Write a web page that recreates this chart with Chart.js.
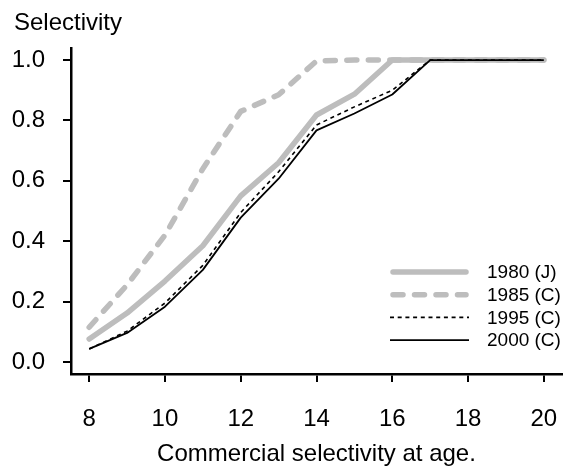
<!DOCTYPE html>
<html>
<head>
<meta charset="utf-8">
<script src="https://cdn.jsdelivr.net/npm/chart.js@4/dist/chart.umd.min.js"></script>
<style>
  html, body { margin: 0; padding: 0; background: #fff; }
  #wrap { width: 566px; height: 469px; position: relative; }
</style>
</head>
<body>
<div id="wrap"><canvas id="sel-chart"></canvas></div>
<script>
    // ages and selectivity
    const ages = [8, 9, 10, 11, 12, 13, 14, 15, 16, 17, 18, 19, 20];
    const sel1980 = [0.076, 0.162, 0.268, 0.385, 0.55, 0.66, 0.818, 0.887, 1, 1, 1, 1, 1];
    const sel1985 = [0.115, 0.255, 0.42, 0.64, 0.83, 0.885, 0.997, 1, 1, 1, 1, 1, 1];
    const sel1995 = [0.043, 0.102, 0.195, 0.32, 0.495, 0.63, 0.785, 0.845, 0.9, 1, 1, 1, 1];
    const sel2000 = [0.043, 0.096, 0.183, 0.305, 0.478, 0.607, 0.767, 0.823, 0.886, 1, 1, 1, 1];
    const seriesLabels = ['1980 (J)', '1985 (C)', '1995 (C)', '2000 (C)'];
    const xTicks = [8, 10, 12, 14, 16, 18, 20];
    const yTicks = [0, 0.2, 0.4, 0.6, 0.8, 1.0];

    const FONT = '"Liberation Sans", Arial, sans-serif';
    const GRAY = '#bdbdbd';

    const toPoints = vals => ages.map((a, i) => ({ x: a, y: vals[i] }));

    // legend in the lower right, drawn by hand like the R figure
    const legendPlugin = {
        id: 'rLegend',
        afterDraw(chart) {
            const ctx = chart.ctx;
            ctx.save();
            chart.data.datasets.forEach((ds, i) => {
                const y = 272 + i * 22.7;
                ctx.beginPath();
                ctx.strokeStyle = ds.borderColor;
                ctx.lineWidth = ds.borderWidth;
                ctx.lineCap = ds.borderCapStyle || 'butt';
                ctx.setLineDash(ds.borderDash || []);
                ctx.moveTo(ds.borderCapStyle === 'round' ? 393 : 390, y);
                ctx.lineTo(ds.borderCapStyle === 'round' ? 466 : 469, y);
                ctx.stroke();
                ctx.setLineDash([]);
                ctx.fillStyle = '#000';
                ctx.font = '19px ' + FONT;
                ctx.textAlign = 'left';
                ctx.textBaseline = 'middle';
                ctx.fillText(ds.label, 487, y + 1);
            });
            // y axis title at top left
            ctx.font = '24px ' + FONT;
            ctx.textBaseline = 'alphabetic';
            ctx.fillText('Selectivity', 14, 30);
            ctx.restore();
        }
    };

    const chartCtx = document.getElementById('sel-chart').getContext('2d');
    const chart = new Chart(chartCtx, {
        type: 'line',
        data: {
            datasets: [
                { label: seriesLabels[0], data: toPoints(sel1980), borderColor: GRAY, borderWidth: 5.5,
                  borderJoinStyle: 'round', borderCapStyle: 'round', order: 4 },
                { label: seriesLabels[1], data: toPoints(sel1985), borderColor: GRAY, borderWidth: 5.5,
                  borderDash: [10, 11.5], borderJoinStyle: 'round', borderCapStyle: 'round', order: 3 },
                { label: seriesLabels[2], data: toPoints(sel1995), borderColor: '#000', borderWidth: 1.6,
                  borderDash: [4, 3.7], borderJoinStyle: 'round', order: 2 },
                { label: seriesLabels[3], data: toPoints(sel2000), borderColor: '#000', borderWidth: 1.8,
                  borderJoinStyle: 'round', order: 1 }
            ]
        },
        options: {
            responsive: true,
            maintainAspectRatio: false,
            animation: false,
            elements: { point: { radius: 0 }, line: { tension: 0 } },
            layout: { padding: { top: 48, right: 4, left: 0, bottom: 0 } },
            plugins: {
                legend: { display: false },
                tooltip: { enabled: false },
                title: { display: false }
            },
            scales: {
                x: {
                    type: 'linear',
                    min: 7.52,
                    max: 20.48,
                    afterFit: s => { s.height = 95; s.paddingLeft = 0; s.paddingRight = 0; },
                    afterBuildTicks: s => { s.ticks = xTicks.map(v => ({ value: v })); },
                    grid: { drawOnChartArea: false, drawTicks: true, tickLength: 8, color: '#000', lineWidth: 2 },
                    border: { display: true, color: '#000', width: 2.5 },
                    ticks: { color: '#000', font: { family: FONT, size: 24 }, padding: 23, maxRotation: 0,
                             callback: v => String(v) },
                    title: { display: true, text: 'Commercial selectivity at age.', color: '#000',
                             font: { family: FONT, size: 24 }, padding: { top: 4, bottom: 0 } }
                },
                y: {
                    min: -0.04,
                    max: 1.04,
                    afterFit: s => { s.width = 71; },
                    afterBuildTicks: s => { s.ticks = yTicks.map(v => ({ value: v })); },
                    grid: { drawOnChartArea: false, drawTicks: true, tickLength: 8, color: '#000', lineWidth: 2 },
                    border: { display: true, color: '#000', width: 2.5 },
                    ticks: { color: '#000', font: { family: FONT, size: 24 }, padding: 18,
                             callback: v => v.toFixed(1) }
                }
            }
        },
        plugins: [legendPlugin]
    });
</script>
</body>
</html>
